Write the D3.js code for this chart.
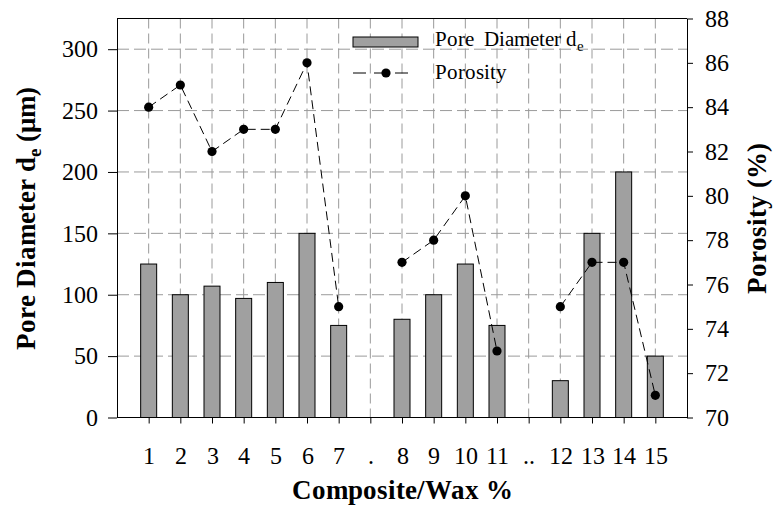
<!DOCTYPE html>
<html>
<head>
<meta charset="utf-8">
<script src="https://cdn.jsdelivr.net/npm/d3@7"></script>
<style>
  @font-face { font-family: 'RefSerif'; src: local('Liberation Serif'), local('LiberationSerif-Regular'), local('DejaVu Serif'), local('DejaVuSerif'); font-weight: normal; }
  @font-face { font-family: 'RefSerif'; src: local('Liberation Serif Bold'), local('LiberationSerif-Bold'), local('DejaVu Serif Bold'), local('DejaVuSerif-Bold'); font-weight: bold; }
  body { margin: 0; background: #fff; }
</style>
</head>
<body>
<div id="chart"></div>
<script>
// Chart values
const categories = ['1', '2', '3', '4', '5', '6', '7', '.', '8', '9', '10', '11', '..', '12', '13', '14', '15'];
const poreDiameter = [125, 100, 107, 97, 110, 150, 75, null, 80, 100, 125, 75, null, 30, 150, 200, 50];
const porosity = [84, 85, 82, 83, 83, 86, 75, null, 77, 78, 80, 73, null, 75, 77, 77, 71];
const leftTicks = [0, 50, 100, 150, 200, 250, 300];
const rightTicks = [70, 72, 74, 76, 78, 80, 82, 84, 86, 88];

const serif = 'RefSerif, "Liberation Serif", "DejaVu Serif", serif';

const W = 776, H = 508;
const margin = { top: 18.5, right: 89, bottom: 90.5, left: 117 };
const x0 = margin.left, x1 = W - margin.right;
const y0 = H - margin.bottom, y1 = margin.top;

const svg = d3.select('#chart')
    .append('svg')
    .attr('width', W)
    .attr('height', H)
    .attr('font-family', serif);

const x = d3.scalePoint()
    .domain(categories)
    .range([x0, x1])
    .padding(1);

const yLeft = d3.scaleLinear().domain([0, 325]).range([y0, y1]);
const yRight = d3.scaleLinear().domain([70, 88]).range([y0, y1]);

const gridColor = '#9a9a9a';

// grid lines (behind bars)
svg.append('g')
    .selectAll('line')
    .data(leftTicks.filter(d => d > 0))
    .enter()
    .append('line')
    .attr('x1', x0).attr('x2', x1)
    .attr('y1', d => yLeft(d)).attr('y2', d => yLeft(d))
    .attr('stroke', gridColor)
    .attr('stroke-dasharray', '12,5');

svg.append('g')
    .selectAll('line')
    .data(categories)
    .enter()
    .append('line')
    .attr('x1', d => x(d)).attr('x2', d => x(d))
    .attr('y1', y1).attr('y2', y0)
    .attr('stroke', gridColor)
    .attr('stroke-dasharray', '10,5');

// bars
const barW = 16;
svg.append('g')
    .selectAll('rect')
    .data(categories.map((c, i) => ({ c: c, v: poreDiameter[i] })).filter(d => d.v != null))
    .enter()
    .append('rect')
    .attr('x', d => x(d.c) - barW / 2)
    .attr('y', d => yLeft(d.v))
    .attr('width', barW)
    .attr('height', d => yLeft(0) - yLeft(d.v))
    .attr('fill', '#a0a0a0')
    .attr('stroke', '#000')
    .attr('stroke-width', 1);

// porosity line
const pts = categories.map((c, i) => ({ c: c, v: porosity[i] }));
const line = d3.line()
    .defined(d => d.v != null)
    .x(d => x(d.c))
    .y(d => yRight(d.v));

svg.append('path')
    .datum(pts)
    .attr('d', line)
    .attr('fill', 'none')
    .attr('stroke', '#000')
    .attr('stroke-width', 1)
    .attr('stroke-dasharray', '9,5');

svg.append('g')
    .selectAll('circle')
    .data(pts.filter(d => d.v != null))
    .enter()
    .append('circle')
    .attr('cx', d => x(d.c))
    .attr('cy', d => yRight(d.v))
    .attr('r', 4.6)
    .attr('fill', '#000');

// frame top
svg.append('line')
    .attr('x1', x0).attr('x2', x1)
    .attr('y1', y1).attr('y2', y1)
    .attr('stroke', '#000');

// axes
const leftAxis = svg.append('g')
    .attr('transform', 'translate(' + x0 + ',0)')
    .call(d3.axisLeft(yLeft).tickValues(leftTicks).tickSize(9).tickPadding(10).tickSizeOuter(0));

const rightAxis = svg.append('g')
    .attr('transform', 'translate(' + x1 + ',0)')
    .call(d3.axisRight(yRight).tickValues(rightTicks).tickSize(6).tickPadding(12).tickSizeOuter(0));

const bottomAxis = svg.append('g')
    .attr('transform', 'translate(0,' + y0 + ')')
    .call(d3.axisBottom(x).tickSize(6).tickPadding(23).tickSizeOuter(0));

bottomAxis.select('.domain').attr('d', 'M' + x0 + ',0H' + x1);

[leftAxis, rightAxis, bottomAxis].forEach(g => {
    g.attr('font-family', serif).attr('font-size', 24);
    g.selectAll('text').attr('fill', '#000');
    g.selectAll('line, path').attr('stroke', '#000');
});

// axis titles
svg.append('text')
    .attr('x', (x0 + x1) / 2)
    .attr('y', 499)
    .attr('text-anchor', 'middle')
    .attr('font-size', 27)
    .attr('font-weight', 'bold')
    .text('Composite/Wax %');

const lt = svg.append('text')
    .attr('transform', 'translate(35,' + ((y0 + y1) / 2) + ') rotate(-90)')
    .attr('text-anchor', 'middle')
    .attr('font-size', 27)
    .attr('font-weight', 'bold');
lt.append('tspan').text('Pore Diameter d');
lt.append('tspan').attr('dy', 6).attr('font-size', 19).text('e');
lt.append('tspan').attr('dy', -6).text(' (\u03bcm)');

svg.append('text')
    .attr('transform', 'translate(766,' + ((y0 + y1) / 2) + ') rotate(-90)')
    .attr('text-anchor', 'middle')
    .attr('font-size', 27)
    .attr('font-weight', 'bold')
    .text('Porosity (%)');

// legend
const legend = svg.append('g');
legend.append('rect')
    .attr('x', 353).attr('y', 37)
    .attr('width', 65).attr('height', 10)
    .attr('fill', '#a0a0a0')
    .attr('stroke', '#000');

const lg1 = legend.append('text')
    .attr('x', 435).attr('y', 46)
    .attr('font-size', 21)
    .attr('xml:space', 'preserve')
    .style('white-space', 'pre');
lg1.append('tspan').text('Pore  Diameter d');
lg1.append('tspan').attr('dy', 5).attr('font-size', 15).text('e');

legend.append('line')
    .attr('x1', 353).attr('x2', 412)
    .attr('y1', 73).attr('y2', 73)
    .attr('stroke', '#000')
    .attr('stroke-dasharray', '13,8');
legend.append('circle')
    .attr('cx', 386).attr('cy', 73).attr('r', 4.6)
    .attr('fill', '#000');
legend.append('text')
    .attr('x', 435).attr('y', 79)
    .attr('font-size', 21)
    .text('Porosity');
</script>
</body>
</html>
